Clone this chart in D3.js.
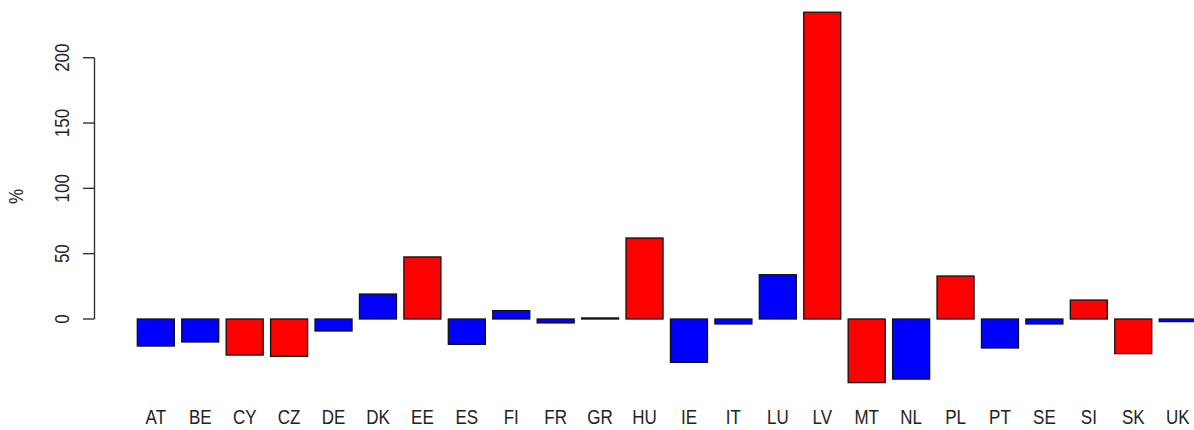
<!DOCTYPE html>
<html>
<head>
<meta charset="utf-8">
<script src="https://cdn.jsdelivr.net/npm/d3@7"></script>
<style>
  html, body { margin: 0; padding: 0; background: #fff; }
  svg { display: block; }
  text { font-family: "Liberation Sans", Arial, sans-serif; fill: #222; }
</style>
</head>
<body>
<script>
const countries = ["AT","BE","CY","CZ","DE","DK","EE","ES","FI","FR","GR","HU","IE","IT","LU","LV","MT","NL","PL","PT","SE","SI","SK","UK"];
const values = [-20.7,-17.6,-27.6,-28.6,-9.2,19.1,47.5,-19.4,6.4,-3.0,0.8,62.0,-33.2,-3.8,33.9,234.8,-48.7,-46.0,32.9,-22.2,-3.8,14.5,-26.5,-2.0];
const groups = ["old","old","new","new","old","old","new","old","old","old","old","new","old","old","old","new","new","old","new","old","old","new","new","old"];
const yTicks = [0,50,100,150,200];
const yLabel = "%";

const W = 1194, H = 430;
const svg = d3.select("body").append("svg").attr("width", W).attr("height", H);

const x = d3.scaleBand().domain(countries).range([137.3, 1196.2]).paddingInner(0.1667).paddingOuter(0);
const y = d3.scaleLinear().domain([0, 200]).range([319, 57.7]);
const color = d3.scaleOrdinal().domain(["old","new"]).range(["#0000ff","#ff0000"]);

const data = countries.map((c, i) => ({c, v: values[i], g: groups[i]}));

svg.append("g").selectAll("rect").data(data).enter().append("rect")
  .attr("x", d => x(d.c))
  .attr("width", x.bandwidth())
  .attr("y", d => Math.min(y(d.v), y(0)))
  .attr("height", d => Math.max(Math.abs(y(d.v) - y(0)), 0.01))
  .attr("fill", d => color(d.g))
  .attr("stroke", "#111")
  .attr("stroke-width", 1.3);

// y axis
const axisX = 94.5;
const ax = svg.append("g");
ax.append("line").attr("x1", axisX).attr("x2", axisX).attr("y1", y(0)).attr("y2", y(200))
  .attr("stroke", "#333").attr("stroke-width", 1.4);
ax.selectAll("line.tick").data(yTicks).enter().append("line")
  .attr("x1", axisX - 11.5).attr("x2", axisX)
  .attr("y1", d => y(d)).attr("y2", d => y(d))
  .attr("stroke", "#333").attr("stroke-width", 1.4);
ax.selectAll("text").data(yTicks).enter().append("text")
  .attr("transform", d => `translate(69,${y(d)}) rotate(-90) scale(0.85,1)`)
  .attr("text-anchor", "middle")
  .attr("font-size", 20)
  .text(d => d);

svg.append("text")
  .attr("transform", `translate(23,196.5) rotate(-90) scale(0.85,1)`)
  .attr("text-anchor", "middle")
  .attr("font-size", 20)
  .text(yLabel);

// x labels
svg.append("g").selectAll("text").data(countries).enter().append("text")
  .attr("transform", d => `translate(${x(d) + x.bandwidth()/2},424) scale(0.85,1)`)
  .attr("text-anchor", "middle")
  .attr("font-size", 20)
  .text(d => d);
</script>
</body>
</html>
